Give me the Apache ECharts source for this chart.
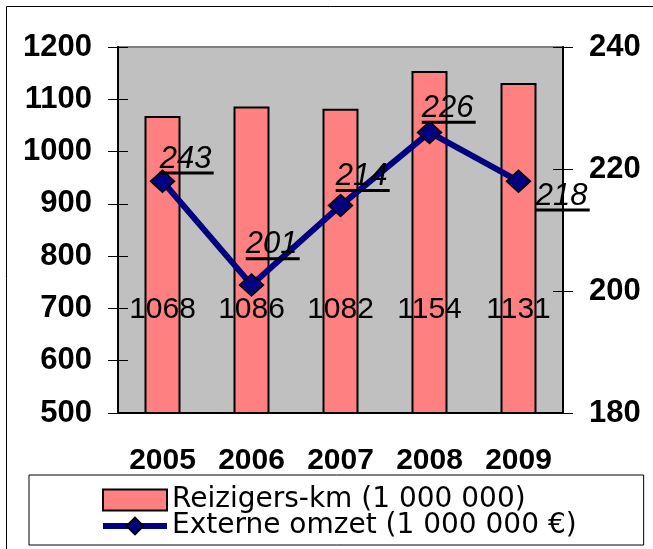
<!DOCTYPE html>
<html>
<head>
<meta charset="utf-8">
<title>Reizigers-km en externe omzet</title>
<script src="https://cdn.jsdelivr.net/npm/echarts@6/dist/echarts.min.js"></script>
<style>
  html, body { margin: 0; padding: 0; background: #fff; }
  #chart { width: 653px; height: 549px; }
</style>
</head>
<body>
<div id="chart"></div>
<script>
// data
var years = ['2005', '2006', '2007', '2008', '2009'];
var reizigersKm = [1068, 1086, 1082, 1154, 1131];
var externeOmzet = [218, 201, 214, 226, 218];
var omzetLabels = ['243', '201', '214', '226', '218'];   // labels as printed
var leftTicks = [500, 600, 700, 800, 900, 1000, 1100, 1200];
var rightTicks = [180, 200, 220, 240];

var FONT = 'Liberation Sans';

// where each italic label sits relative to its marker box
var labelPos = [[10, 5], [7, -13], [8, -2], [5, 3], [30, 42]];

var myChart = echarts.init(document.getElementById('chart'));

function valueAxis(ticks, pos, inside) {
  return {
    type: 'value',
    position: pos,
    min: ticks[0],
    max: ticks[ticks.length - 1],
    interval: ticks[1] - ticks[0],
    axisLine: { show: !inside, lineStyle: { color: '#000', width: 2 } },
    axisTick: { show: true, inside: inside, length: 10, lineStyle: { color: '#000', width: 1 } },
    axisLabel: {
      show: !inside,
      margin: 26,
      color: '#000',
      fontFamily: FONT,
      fontWeight: 'bold',
      fontSize: 31,
      formatter: function (v) { return String(v); }
    },
    splitLine: { show: false }
  };
}

var option = {
  animation: false,
  backgroundColor: '#fff',
  graphic: [{
    type: 'rect',
    shape: { x: 6.5, y: 6.5, width: 700, height: 600 },
    style: { fill: 'none', stroke: '#000', lineWidth: 1 },
    silent: true
  }],
  grid: {
    left: 118, right: 90, top: 47, bottom: 136,
    show: true,
    backgroundColor: '#C0C0C0',
    borderColor: '#808080',
    borderWidth: 2
  },
  legend: {
    orient: 'vertical',
    left: 29,
    top: 475,
    height: 120,
    padding: [11, 67, 5, 71],
    borderColor: '#000',
    borderWidth: 1,
    itemWidth: 64,
    itemHeight: 21,
    itemGap: -2,
    itemTextGap: 9,
    lineStyle: { width: 6 },
    textStyle: { fontFamily: 'DejaVu Sans', fontSize: 28, color: '#000', lineHeight: 21 },
    data: [
      { name: 'Reizigers-km (1 000 000)', icon: 'rect' },
      { name: 'Externe omzet (1 000 000 €)' }
    ]
  },
  xAxis: [{
    type: 'category',
    data: years,
    position: 'bottom',
    axisLine: { lineStyle: { color: '#000', width: 2 } },
    axisTick: { length: 10, lineStyle: { color: '#000', width: 1 } },
    axisLabel: { margin: 33, color: '#000', fontFamily: FONT, fontWeight: 'bold', fontSize: 30 }
  }, {
    type: 'category',
    data: years,
    position: 'bottom',
    axisLine: { show: false },
    axisTick: { inside: true, length: 10, lineStyle: { color: '#000', width: 1 } },
    axisLabel: { show: false }
  }],
  yAxis: [
    valueAxis(leftTicks, 'left', false),
    valueAxis(rightTicks, 'right', false),
    valueAxis(leftTicks, 'left', true),
    valueAxis(rightTicks, 'right', true)
  ],
  series: [{
    name: 'Reizigers-km (1 000 000)',
    type: 'bar',
    data: reizigersKm,
    barWidth: 36,
    itemStyle: { color: '#FF8080', borderColor: '#000', borderWidth: 2 },
    label: {
      show: true,
      position: 'insideBottom',
      distance: 89,
      color: '#000',
      fontFamily: FONT,
      fontSize: 30
    }
  }, {
    name: 'Externe omzet (1 000 000 €)',
    type: 'line',
    yAxisIndex: 1,
    data: externeOmzet.map(function (v, i) {
      return {
        value: v,
        label: { position: labelPos[i] }
      };
    }),
    symbol: 'diamond',
    symbolSize: [24, 22],
    lineStyle: { color: '#000080', width: 6 },
    itemStyle: { color: '#000080', borderColor: '#000', borderWidth: 1.5 },
    label: {
      show: true,
      align: 'left',
      verticalAlign: 'bottom',
      formatter: function (p) {
        return '{t|' + omzetLabels[p.dataIndex] + '}\n{u| }';
      },
      rich: {
        t: { fontFamily: FONT, fontStyle: 'italic', fontSize: 31, color: '#000', lineHeight: 25 },
        u: { width: 54, height: 3, lineHeight: 3, fontSize: 2, backgroundColor: '#000' }
      }
    },
    z: 3
  }]
};

myChart.setOption(option);
</script>
</body>
</html>
